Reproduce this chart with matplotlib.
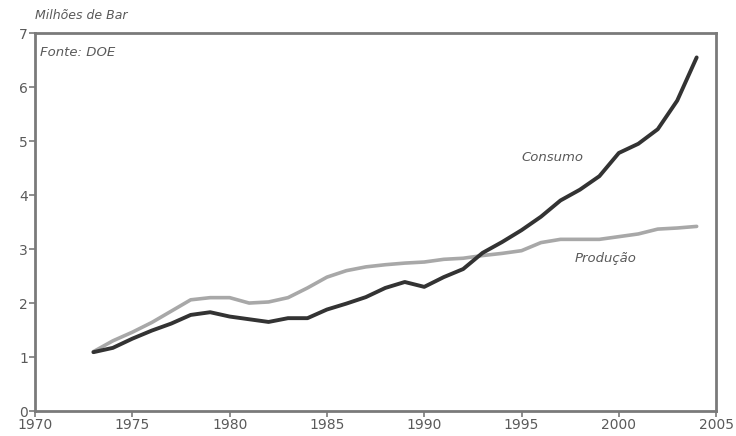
import matplotlib
matplotlib.use('Agg')
import matplotlib.pyplot as plt

years = list(range(1973, 2005))
consumo = [1.09, 1.17, 1.34, 1.49, 1.62, 1.78, 1.83, 1.75, 1.70, 1.65,
           1.72, 1.72, 1.88, 1.99, 2.11, 2.28, 2.39, 2.30, 2.48, 2.63,
           2.93, 3.13, 3.35, 3.60, 3.90, 4.10, 4.35, 4.78, 4.95, 5.22,
           5.75, 6.55]
producao = [1.10, 1.30, 1.46, 1.64, 1.85, 2.06, 2.10, 2.10, 2.00, 2.02,
            2.10, 2.28, 2.48, 2.60, 2.67, 2.71, 2.74, 2.76, 2.81, 2.83,
            2.88, 2.92, 2.97, 3.12, 3.18, 3.18, 3.18, 3.23, 3.28, 3.37,
            3.39, 3.42]
xticks = list(range(1970, 2006, 5))
yticks = list(range(0, 8))

txt = '#5a5a5a'
axcol = '#7a7a7a'

fig = plt.figure(figsize=(7.36, 4.36), dpi=100)
ax = fig.add_axes([0.0476, 0.0573, 0.9254, 0.8667])

ax.plot(years, producao, color='#a8a8a8', lw=2.6, solid_capstyle='round', zorder=2)
ax.plot(years, consumo, color='#333333', lw=2.8, solid_capstyle='round', zorder=3)

ax.set_xlim(1970, 2005)
ax.set_ylim(0, 7)
ax.set_xticks(xticks)
ax.set_yticks(yticks)
for s in ax.spines.values():
    s.set_color(axcol)
    s.set_linewidth(2)
ax.tick_params(colors=axcol, labelcolor=txt, labelsize=10, length=4, width=1.2, pad=1)

ax.text(0.0, 1.03, 'Milhões de Bar', transform=ax.transAxes, fontsize=9,
        style='italic', color=txt, va='bottom', ha='left')
ax.text(0.008, 0.965, 'Fonte: DOE', transform=ax.transAxes, fontsize=9.5,
        style='italic', color=txt, va='top', ha='left')
ax.text(1996.6, 4.70, 'Consumo', fontsize=9.5, style='italic', color=txt, ha='center', va='center')
ax.text(1999.3, 2.83, 'Produção', fontsize=9.5, style='italic', color=txt, ha='center', va='center')

fig.savefig('out.png', dpi=100)
